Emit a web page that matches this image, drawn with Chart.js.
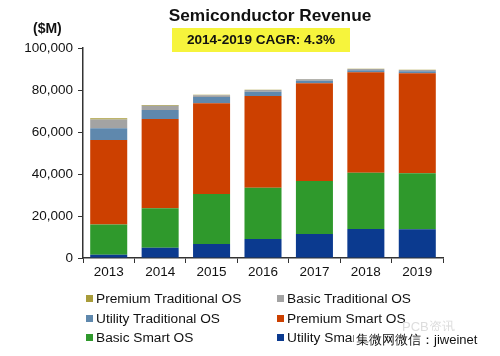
<!DOCTYPE html>
<html>
<head>
<meta charset="utf-8">
<script src="https://cdn.jsdelivr.net/npm/chart.js@4/dist/chart.umd.min.js"></script>
<style>
  html,body{margin:0;padding:0;background:#fff;}
  #wrap{position:relative;width:500px;height:356px;overflow:hidden;font-family:"Liberation Sans",Arial,sans-serif;}
  canvas{position:absolute;left:0;top:0;}
  .abs{position:absolute;white-space:nowrap;color:#111;}
  #title{left:0;width:540px;text-align:center;top:5px;font-weight:bold;font-size:17.3px;}
  #cagr{left:172px;top:28px;width:178px;height:24px;line-height:24px;background:#f6f43c;text-align:center;font-weight:bold;font-size:13.6px;}
  #unit{left:33px;top:20px;font-weight:bold;font-size:14px;}
  .leg{position:absolute;font-size:13.7px;color:#111;white-space:nowrap;line-height:16px;}
  .leg i{display:inline-block;width:7px;height:7px;margin-right:3px;vertical-align:1px;}
  #wm{left:354px;top:331px;font-size:13px;background:#fff;padding:0 2px;color:#111;line-height:18px;}
  #wm2{left:402px;top:318px;font-size:13px;color:#ddd;}
</style>
</head>
<body>
<div id="wrap">
  <canvas id="c" width="500" height="356"></canvas>
  <div class="abs" id="title">Semiconductor Revenue</div>
  <div class="abs" id="cagr">2014-2019 CAGR: 4.3%</div>
  <div class="abs" id="unit">($M)</div>
  <div id="legend"></div>
  <div class="abs" id="wm2">PCB资讯</div>
  <div class="abs" id="wm">集微网微信：jiweinet</div>
</div>
<script>
const years = ["2013","2014","2015","2016","2017","2018","2019"];
const utilitySmartOS      = [1500, 4900, 6700, 9000, 11400, 13800, 13700];
const basicSmartOS        = [14500, 18800, 23800, 24400, 25300, 26800, 26600];
const premiumSmartOS      = [40200, 42500, 43200, 43800, 46500, 47800, 47700];
const utilityTraditionalOS= [5600, 4300, 3000, 2000, 1200, 1000, 900];
const basicTraditionalOS  = [4200, 2000, 800, 800, 700, 600, 600];
const premiumTraditionalOS= [500, 300, 200, 100, 100, 100, 100];
const yTicks = [0, 20000, 40000, 60000, 80000, 100000];

const series = [
  {name:"Utility Smart OS", data:utilitySmartOS, color:"#0b3a8f"},
  {name:"Basic Smart OS", data:basicSmartOS, color:"#2f992c"},
  {name:"Premium Smart OS", data:premiumSmartOS, color:"#cc4000"},
  {name:"Utility Traditional OS", data:utilityTraditionalOS, color:"#5f88ad"},
  {name:"Basic Traditional OS", data:basicTraditionalOS, color:"#a3a3a3"},
  {name:"Premium Traditional OS", data:premiumTraditionalOS, color:"#a89c3a"}
];

const chart = new Chart(document.getElementById('c'), {
  type:'bar',
  data:{
    labels: years,
    datasets: series.map(s=>({label:s.name, data:s.data, backgroundColor:s.color, borderWidth:0,
      barPercentage:0.72, categoryPercentage:1.0}))
  },
  options:{
    responsive:false, animation:false,
    layout:{padding:{left:0, top:48, right:57, bottom:78}},
    plugins:{legend:{display:false}, tooltip:{enabled:false}},
    scales:{
      x:{stacked:true, offset:true,
        grid:{display:true, drawOnChartArea:false, drawTicks:true, tickLength:5, color:'#333', offset:true},
        border:{display:true, color:'#333', width:1.5},
        ticks:{color:'#111', font:{family:'"Liberation Sans", Arial', size:13.5}, padding:1},
        afterFit:s=>{s.height=20;}
      },
      y:{stacked:true, min:0, max:100000,
        afterBuildTicks:s=>{s.ticks = yTicks.map(v=>({value:v}));},
        grid:{display:true, drawOnChartArea:false, drawTicks:true, tickLength:5, color:'#333'},
        border:{display:true, color:'#333', width:1.5},
        ticks:{color:'#111', font:{family:'"Liberation Sans", Arial', size:13.5}, padding:5,
          callback:v=>v.toLocaleString('en-US')},
        afterFit:s=>{s.width=83;}
      }
    }
  }
});

// legend built from the datasets
const order = ["Premium Traditional OS","Basic Traditional OS","Utility Traditional OS","Premium Smart OS","Basic Smart OS","Utility Smart OS"];
const leg = document.getElementById('legend');
order.forEach((n,i)=>{
  const s = series.find(x=>x.name===n);
  const d = document.createElement('div');
  d.className='leg';
  d.style.left = (i%2===0 ? 86 : 277)+'px';
  d.style.top = (291 + Math.floor(i/2)*19.5)+'px';
  d.innerHTML = '<i style="background:'+s.color+'"></i>'+n;
  leg.appendChild(d);
});
</script>
</body>
</html>
